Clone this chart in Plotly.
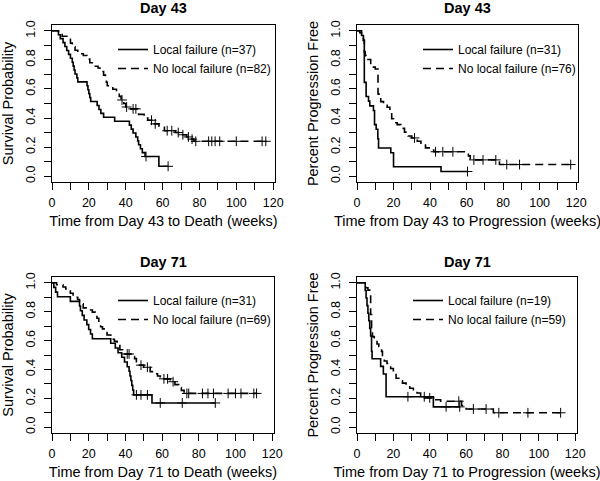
import numpy as np
import plotly.graph_objects as go

FONT = "Liberation Sans, Arial, Helvetica, sans-serif"

# ---------------- Data ----------------
# Panel 1: Day 43, survival
d43_os_lf_t = [0, 3.5, 4.5, 6, 7, 8, 9, 10, 11, 11.5, 12, 12.5, 13.5, 14, 19, 19.5, 20, 20.5, 21, 24.5,
               25.5, 26.5, 28, 34, 42, 43, 44, 45.5, 46.5, 47, 48, 49, 50.5, 58]
d43_os_lf_s = [1.0, 0.973, 0.946, 0.919, 0.892, 0.865, 0.838, 0.811, 0.784, 0.757, 0.730, 0.703, 0.676, 0.649,
               0.622, 0.595, 0.568, 0.541, 0.514, 0.486, 0.459, 0.432, 0.405, 0.378, 0.351, 0.324, 0.297,
               0.270, 0.243, 0.216, 0.189, 0.162, 0.135, 0.068]
d43_os_lf_cens = [51, 63]

d43_os_nlf_t = [0, 3.5, 5.5, 10, 11, 12.5, 14, 17, 19, 20.5, 22.5, 25, 26, 28, 29, 29.5, 30, 33, 35, 36.5,
                37.5, 39, 40, 42, 46.5, 47, 50, 52, 55.5, 58, 61, 67, 70, 73, 75, 77]
d43_os_nlf_s = [1.0, 0.988, 0.963, 0.915, 0.89, 0.866, 0.842, 0.83, 0.805, 0.78, 0.756, 0.744, 0.72, 0.695,
                0.67, 0.646, 0.622, 0.598, 0.573, 0.549, 0.524, 0.50, 0.476, 0.463, 0.45, 0.425, 0.40, 0.385,
                0.36, 0.345, 0.313, 0.30, 0.285, 0.27, 0.255, 0.24]
d43_os_nlf_cens = [38, 40.5, 44, 45.5, 54, 56, 62.5, 65, 68.5, 71, 74, 76, 78, 85, 86.7, 88.5, 91, 100, 114, 116]

# Panel 2: Day 43, progression
d43_pfs_lf_t = [0, 2.5, 3.5, 4, 5, 6.3, 7, 9, 9.6, 10.5, 11.4, 11.8, 18.5, 20, 46]
d43_pfs_lf_s = [1.0, 0.968, 0.935, 0.645, 0.548, 0.516, 0.484, 0.452, 0.355, 0.323, 0.258, 0.194, 0.161,
                0.065, 0.032]
d43_pfs_lf_cens = [60.5]

d43_pfs_nlf_t = [0, 1.5, 2.5, 3.5, 4, 4.5, 5, 6, 7.5, 9, 10, 11.5, 12, 13, 14.5, 16.5, 18, 19, 20, 22,
                 24, 26, 28, 30, 33, 35, 37.5, 40, 42, 61, 62, 78]
d43_pfs_nlf_s = [1.0, 0.987, 0.974, 0.934, 0.855, 0.829, 0.816, 0.803, 0.776, 0.75, 0.737, 0.566, 0.539,
                 0.513, 0.487, 0.474, 0.447, 0.395, 0.368, 0.355, 0.329, 0.303, 0.276, 0.263, 0.24, 0.22,
                 0.195, 0.18, 0.168, 0.14, 0.112, 0.08]
d43_pfs_nlf_cens = [31.5, 43, 47, 52.5, 64, 69, 76, 82, 89, 117]

# Panel 3: Day 71, survival
d71_os_lf_t = [0, 1, 2, 3, 10, 15, 15.5, 16.5, 17.5, 19, 20, 21, 22, 32, 34.5, 36, 38, 39.5, 41, 42,
               42.5, 43, 43.5, 44, 44.5, 54.5]
d71_os_lf_s = [1.0, 0.968, 0.935, 0.903, 0.871, 0.839, 0.806, 0.774, 0.742, 0.71, 0.677, 0.645, 0.613,
               0.581, 0.548, 0.516, 0.484, 0.452, 0.419, 0.387, 0.355, 0.323, 0.29, 0.258, 0.224, 0.168]
d71_os_lf_cens = [46, 48.5, 52, 59, 71, 89]

d71_os_nlf_t = [0, 2.5, 6, 7.5, 8.5, 10, 11.5, 14, 15, 16, 17, 20, 22, 23.5, 24.5, 25.5, 26.5, 27.5, 29, 30,
                32, 34, 35.5, 37, 38.5, 39.5, 43, 45, 46, 47, 50, 53.5, 56, 57.5, 59, 64.5, 67, 69, 70.5, 72]
d71_os_nlf_s = [1.0, 0.986, 0.971, 0.957, 0.942, 0.928, 0.899, 0.884, 0.87, 0.855, 0.826, 0.812, 0.797,
                0.783, 0.754, 0.725, 0.696, 0.681, 0.667, 0.638, 0.609, 0.594, 0.565, 0.536, 0.522, 0.507,
                0.49, 0.475, 0.445, 0.43, 0.415, 0.385, 0.37, 0.355, 0.335, 0.315, 0.295, 0.275, 0.255, 0.234]
d71_os_nlf_cens = [41, 42, 48.5, 52, 61, 63, 66, 73.5, 74.5, 82, 85, 88, 96, 100, 103, 110, 111.5]

# Panel 4: Day 71, progression
d71_pfs_lf_t = [0, 4.5, 5, 5.5, 6, 6.5, 7, 7.5, 8, 8.3, 13, 14.5, 16, 42]
d71_pfs_lf_s = [1.0, 0.947, 0.895, 0.842, 0.789, 0.737, 0.684, 0.632, 0.526, 0.474, 0.421, 0.368, 0.211, 0.141]
d71_pfs_lf_cens = [28, 37, 49, 56.5]

d71_pfs_nlf_t = [0, 4, 5, 6, 7, 7.5, 8, 8.5, 9.5, 11, 12, 13, 13.5, 14, 15, 16.5, 17.5, 18.5, 20, 21.5,
                 23, 25, 27, 29, 31, 33, 35, 37, 42, 46, 57.5, 60, 75]
d71_pfs_nlf_s = [1.0, 0.983, 0.966, 0.949, 0.915, 0.78, 0.661, 0.627, 0.61, 0.576, 0.559, 0.542, 0.525,
                 0.49, 0.458, 0.441, 0.424, 0.407, 0.373, 0.339, 0.322, 0.305, 0.288, 0.27, 0.254, 0.237,
                 0.22, 0.203, 0.19, 0.18, 0.15, 0.126, 0.1]
d71_pfs_nlf_cens = [40, 56, 64, 71, 78, 94, 112]

panel_titles = ["Day 43", "Day 43", "Day 71", "Day 71"]
x_titles = ["Time from Day 43 to Death (weeks)", "Time from Day 43 to Progression (weeks)",
            "Time from Day 71 to Death (weeks)", "Time from Day 71 to Progression (weeks)"]
y_titles = ["Survival Probability", "Percent Progression Free",
            "Survival Probability", "Percent Progression Free"]
lf_names = ["Local failure (n=37)", "Local failure (n=31)", "Local failure (n=31)", "Local failure (n=19)"]
nlf_names = ["No local failure (n=82)", "No local failure (n=76)", "No local failure (n=69)",
             "No local failure (n=59)"]
x_ticks = [0, 20, 40, 60, 80, 100, 120]
y_ticks = [0.0, 0.2, 0.4, 0.6, 0.8, 1.0]

series = [
    ((d43_os_lf_t, d43_os_lf_s, d43_os_lf_cens), (d43_os_nlf_t, d43_os_nlf_s, d43_os_nlf_cens)),
    ((d43_pfs_lf_t, d43_pfs_lf_s, d43_pfs_lf_cens), (d43_pfs_nlf_t, d43_pfs_nlf_s, d43_pfs_nlf_cens)),
    ((d71_os_lf_t, d71_os_lf_s, d71_os_lf_cens), (d71_os_nlf_t, d71_os_nlf_s, d71_os_nlf_cens)),
    ((d71_pfs_lf_t, d71_pfs_lf_s, d71_pfs_lf_cens), (d71_pfs_nlf_t, d71_pfs_nlf_s, d71_pfs_nlf_cens)),
]

# ---------------- Layout geometry (pixels in a 600x481 canvas) ----------------
W, H = 600, 481
boxes = [(52, 275, 25, 182), (357, 578, 25, 182), (52, 274, 277, 433), (357, 577, 277, 433)]
legend_pos = [(113, 35), (418, 35), (113, 286), (408, 286)]
title_y = [7.5, 7.5, 261.5, 261.5]


def km_line(t, s, cens):
    x, y = list(t), list(s)
    end = max(cens) if cens else t[-1]
    if end > t[-1]:
        x.append(end)
        y.append(s[-1])
    return x, y


def censor_vals(t, s, cens):
    idx = np.searchsorted(np.asarray(t), np.asarray(cens), side="right") - 1
    return list(np.asarray(s)[idx])


fig = go.Figure()
styles = [dict(color="black", width=1.6), dict(color="black", width=1.6, dash="8px,5px")]

for i, (pair, lf, nlf) in enumerate(zip(series, lf_names, nlf_names)):
    xa = "x" if i == 0 else f"x{i+1}"
    ya = "y" if i == 0 else f"y{i+1}"
    lg = "legend" if i == 0 else f"legend{i+1}"
    for (t, s, c), name, st in zip(pair, (lf, nlf), styles):
        lx, ly = km_line(t, s, c)
        fig.add_trace(go.Scatter(x=lx, y=ly, mode="lines", line=dict(shape="hv", **st), name=name,
                                 xaxis=xa, yaxis=ya, legend=lg, showlegend=True))
        fig.add_trace(go.Scatter(x=c, y=censor_vals(t, s, c), mode="markers",
                                 marker=dict(symbol="cross-thin", size=7, color="black",
                                             line=dict(color="black", width=1)),
                                 xaxis=xa, yaxis=ya, showlegend=False, hoverinfo="skip"))

layout = dict(width=W, height=H, margin=dict(l=0, r=0, t=0, b=0),
              paper_bgcolor="white", plot_bgcolor="white",
              font=dict(family=FONT, color="black", size=12), annotations=[])

for i, (x0, x1, y0, y1) in enumerate(boxes):
    sfx = "" if i == 0 else str(i + 1)
    layout["xaxis" + sfx] = dict(
        domain=[x0 / W, x1 / W], anchor="y" + sfx, range=[0, 121], automargin=False,
        tickmode="array", tickvals=x_ticks, ticks="outside", ticklen=7, tickwidth=1, tickcolor="black",
        minor=dict(dtick=10, tick0=0, ticks="outside", ticklen=7, tickwidth=1, tickcolor="black",
                   showgrid=False),
        showline=True, mirror=True, linecolor="black", linewidth=1, showgrid=False, zeroline=False,
        tickfont=dict(size=12.5), ticklabelstandoff=2,
        title=dict(text=x_titles[i], font=dict(size=14.5), standoff=6))
    layout["yaxis" + sfx] = dict(
        domain=[(H - y1) / H, (H - y0) / H], anchor="x" + sfx, range=[-0.04, 1.04], automargin=False,
        tickmode="array", tickvals=y_ticks, tickformat=".1f", tickangle=-90,
        ticks="outside", ticklen=7, tickwidth=1, tickcolor="black",
        minor=dict(dtick=0.1, tick0=0, ticks="outside", ticklen=7, tickwidth=1, tickcolor="black",
                   showgrid=False),
        showline=True, mirror=True, linecolor="black", linewidth=1, showgrid=False, zeroline=False,
        tickfont=dict(size=12.5), ticklabelstandoff=4,
        title=dict(text=y_titles[i], font=dict(size=14.5), standoff=6))
    lx, ly = legend_pos[i]
    layout["legend" + sfx] = dict(x=lx / W, y=(H - ly) / H, xanchor="left", yanchor="top",
                                  xref="paper", yref="paper", bgcolor="rgba(0,0,0,0)", borderwidth=0,
                                  font=dict(size=12), tracegroupgap=0)
    layout["annotations"].append(dict(text="<b>" + panel_titles[i] + "</b>", x=(x0 + x1) / 2 / W,
                                      y=(H - title_y[i]) / H, xref="paper", yref="paper",
                                      xanchor="center", yanchor="middle", showarrow=False,
                                      font=dict(size=14.5)))

fig.update_layout(**layout)
fig.write_html("out.html", config={"displayModeBar": False},
               post_script="document.body.style.margin='0';document.body.style.overflow='hidden';")
